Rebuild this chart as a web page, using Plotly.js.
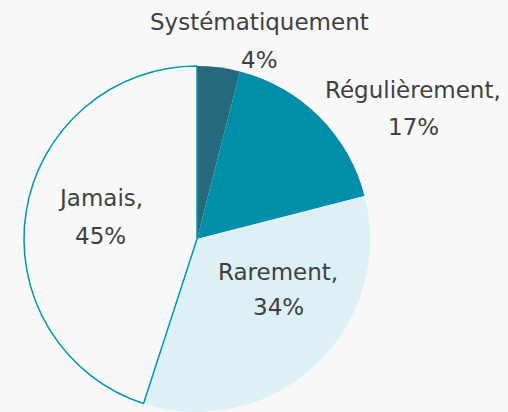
<!DOCTYPE html>
<html><head><meta charset="utf-8">
<script src="https://cdn.plot.ly/plotly-3.0.1.min.js"></script>
<style>html,body{margin:0;padding:0;background:#f8f8f8;}</style>
</head><body><div id="chart" style="width:508px;height:412px;"></div>
<script>
const categories = ["Systématiquement", "Régulièrement", "Rarement", "Jamais"];
const values = [4, 17, 34, 45];
const labelNames = ["Systématiquement", "Régulièrement,", "Rarement,", "Jamais,"];
const sliceColors = ["#246a7c", "#008ea8", "#ddf0f6", "rgba(0,0,0,0)"];
// label placement (pixel centres of name line and percent line)
const labelX = [259, 413, 278, 100];
const nameY = [22, 90, 272, 198];
const pctY = [60, 127, 307, 236];

const W = 508, H = 412;
const trace = {
  type: "pie",
  labels: categories,
  values: values,
  textinfo: "none",
  hoverinfo: "label+percent",
  sort: false,
  direction: "clockwise",
  rotation: 0,
  marker: {colors: sliceColors, line: {color: "#0096b0", width: [0, 0, 0, 1.5]}},
  domain: {x: [24/W, 370/W], y: [0, 346/H]},
  showlegend: false
};
const font = {family: "DejaVu Sans", size: 23, color: "#404040"};
const annotations = [];
labelNames.forEach((name, i) => {
  annotations.push({xref: "paper", yref: "paper", x: labelX[i]/W, y: 1 - nameY[i]/H,
    text: name, showarrow: false, xanchor: "center", yanchor: "middle", font: font});
  annotations.push({xref: "paper", yref: "paper", x: labelX[i]/W, y: 1 - pctY[i]/H,
    text: values[i] + "%", showarrow: false, xanchor: "center", yanchor: "middle", font: font});
});
Plotly.newPlot("chart", [trace], {
  width: W, height: H,
  margin: {l: 0, r: 0, t: 0, b: 0},
  paper_bgcolor: "#f8f8f8", plot_bgcolor: "#f8f8f8",
  showlegend: false,
  annotations: annotations
}, {displayModeBar: false});
</script></body></html>
